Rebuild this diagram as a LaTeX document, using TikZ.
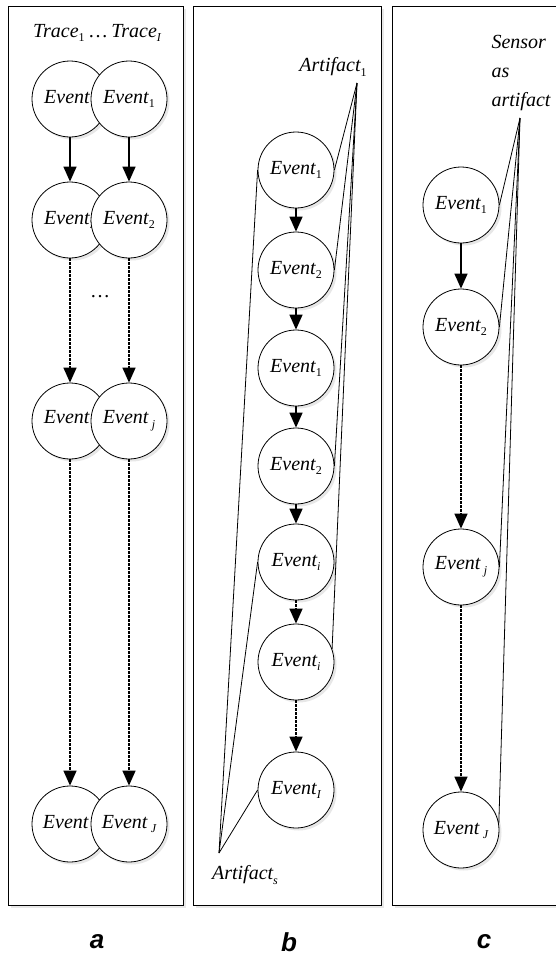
\documentclass[tikz,border=0pt]{standalone}
\usepackage{fontspec}
\setmainfont{Liberation Serif}
\newfontfamily\capfont{Liberation Sans}
\usetikzlibrary{arrows.meta,shadows}

\newcommand{\sub}[1]{\raisebox{-0.5ex}{\fontsize{12}{12}\selectfont #1}}
\newcommand{\nsub}[1]{\sub{\upshape #1}}

\tikzset{every picture/.style={line width=0.75pt}}

\begin{document}
\begin{tikzpicture}[
                x=1pt,
                y=-1pt,
                every node/.style={text=black,font=\fontsize{20}{22}\selectfont\itshape},
                evt/.style={circle,draw,fill=white,minimum size=76pt,inner sep=0pt,line width=0.8pt,
                    drop shadow={shadow xshift=2.5pt,shadow yshift=-2.5pt,fill=black!18}},
                panel/.style={draw,fill=white,line width=0.9pt,
                    drop shadow={shadow xshift=3pt,shadow yshift=-3pt,fill=black!18}},
                flow/.style={line width=1.4pt,-{Triangle[length=15pt,width=13pt]}},
                gap/.style={flow,dash pattern=on 2.5pt off 1.5pt},
                link/.style={line width=0.8pt},
                tag/.style={font=\capfont\bfseries\itshape\fontsize{26}{26}\selectfont},
                line width=0.75pt
            ]
                \useasboundingbox (0,0) rectangle (556,964);

                % panels
                \draw[panel] (8,6) rectangle (183,905);
                \draw[panel] (193,6) rectangle (381,905);
                \draw[panel] (392,6) rectangle (570,905);

                % a: parallel traces
                \node (trace) at (97,33) {Trace\nsub{1}\,{\upshape\ldots}\,Trace\sub{I}};
                \node[evt] (aL1) at (70,99) {Event\nsub{1}};
                \node[evt] (aR1) at (129,99) {Event\nsub{1}};
                \node[evt] (aL2) at (70,220) {Event\nsub{2}};
                \node[evt] (aR2) at (129,220) {Event\nsub{2}};
                \node[evt] (aL3) at (70,421) {Event\,\sub{j}};
                \node[evt] (aR3) at (129,421) {Event\,\sub{j}};
                \node[evt] (aL4) at (70,824) {Event\,\sub{J}};
                \node[evt] (aR4) at (129,824) {Event\,\sub{J}};
                \node (dots) at (100,297) {\upshape\ldots};

                \draw[flow] (aL1) -- (aL2);
                \draw[flow] (aR1) -- (aR2);
                \draw[gap] (aL2) -- (aL3);
                \draw[gap] (aR2) -- (aR3);
                \draw[gap] (aL3) -- (aL4);
                \draw[gap] (aR3) -- (aR4);

                % b: artifacts over one trace
                \node (art1) at (333,67) {Artifact\nsub{1}};
                \coordinate (art1pt) at (357,83);
                \node (arts) at (245,875) {Artifact\sub{s}};
                \coordinate (artspt) at (219,853);

                \node[evt] (b1) at (296,170) {Event\nsub{1}};
                \node[evt] (b2) at (296,270) {Event\nsub{2}};
                \node[evt] (b3) at (296,368) {Event\nsub{1}};
                \node[evt] (b4) at (296,466) {Event\nsub{2}};
                \node[evt] (b5) at (296,562) {Event\sub{i}};
                \node[evt] (b6) at (296,662) {Event\sub{i}};
                \node[evt] (b7) at (296,790) {Event\sub{I}};

                \draw[flow] (b1) -- (b2);
                \draw[flow] (b2) -- (b3);
                \draw[flow] (b3) -- (b4);
                \draw[flow] (b4) -- (b5);
                \draw[gap] (b5) -- (b6);
                \draw[gap] (b6) -- (b7);

                \draw[link] (art1pt) -- (b1.east);
                \draw[link] (art1pt) -- (b2.east);
                \draw[link] (art1pt) -- (b4.east);
                \draw[link] (art1pt) -- (b6.20);
                \draw[link] (artspt) -- (b1.west);
                \draw[link] (artspt) -- (b5.west);
                \draw[link] (artspt) -- (b7.west);

                % c: sensor as artifact
                \node[align=left,font=\fontsize{20}{29}\selectfont\itshape] (sensor) at (521,73) {Sensor\\as\\artifact};
                \coordinate (senspt) at (520,118);

                \node[evt] (c1) at (461,205) {Event\nsub{1}};
                \node[evt] (c2) at (461,327) {Event\nsub{2}};
                \node[evt] (c3) at (461,567) {Event\,\sub{j}};
                \node[evt] (c4) at (461,830) {Event\,\sub{J}};

                \draw[flow] (c1) -- (c2);
                \draw[gap] (c2) -- (c3);
                \draw[gap] (c3) -- (c4);

                \draw[link] (senspt) -- (c1.east);
                \draw[link] (senspt) -- (c2.east);
                \draw[link] (senspt) -- (c3.east);
                \draw[link] (senspt) -- (c4.10);

                % captions
                \node[tag] (capa) at (97,942) {a};
                \node[tag] (capb) at (289,942) {b};
                \node[tag] (capc) at (484,942) {c};
            \end{tikzpicture}
\end{document}
